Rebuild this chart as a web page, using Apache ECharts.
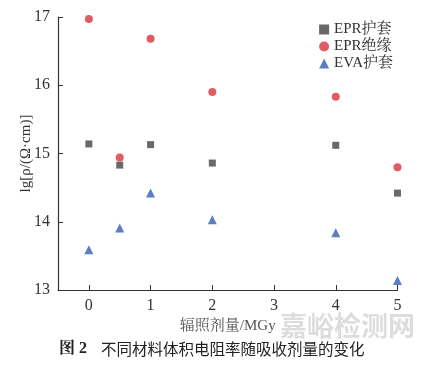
<!DOCTYPE html>
<html><head><meta charset="utf-8">
<script src="https://cdn.jsdelivr.net/npm/echarts@6/dist/echarts.min.js"></script>
<style>html,body{margin:0;padding:0;background:#fff}#c{width:431px;height:368px}</style>
</head><body><div id="c"></div>
<script>
const doses = [0, 0.5, 1, 2, 4, 5];
const eprSheath = [15.14, 14.83, 15.13, 14.86, 15.12, 14.42];
const eprInsul = [16.97, 14.94, 16.68, 15.90, 15.83, 14.80];
const evaSheath = [13.59, 13.91, 14.42, 14.03, 13.84, 13.14];
const xTicks = [0, 1, 2, 3, 4, 5];
const yTicks = [13, 14, 15, 16, 17];
const names = ['EPR护套', 'EPR绝缘', 'EVA护套'];

const serif = '"Liberation Serif", "Noto Serif CJK SC", "Noto Sans CJK SC", serif';
const pair = (arr) => doses.map((d, i) => [d, arr[i]]);
const chart = echarts.init(document.getElementById('c'));
chart.setOption({
  animation: false,
  backgroundColor: '#fff',
  grid: { left: 58, right: 33.5, top: 17, bottom: 78 },
  legend: {
    data: names, orient: 'vertical', right: 33, top: 17, itemGap: 2,
    itemWidth: 10, itemHeight: 10,
    textStyle: { fontFamily: serif, fontSize: 15, color: '#333' }
  },
  xAxis: {
    type: 'value', min: -0.5, max: 5,
    name: '辐照剂量/MGy', nameLocation: 'middle', nameGap: 22,
    nameTextStyle: { fontFamily: serif, fontSize: 15, color: '#555' },
    axisLine: { onZero: false, lineStyle: { color: '#333', width: 1.2 } },
    axisTick: { inside: true, length: 5, customValues: xTicks, lineStyle: { color: '#333' } },
    axisLabel: { customValues: xTicks, fontFamily: serif, fontSize: 16, color: '#333', margin: 8 },
    splitLine: { show: false }
  },
  yAxis: {
    type: 'value', min: 13, max: 17, interval: 1,
    name: 'lg[ρ/(Ω·cm)]', nameLocation: 'middle', nameGap: 24, nameRotate: 90,
    nameMoveOverlap: false,
    nameTextStyle: { fontFamily: serif, fontSize: 15, color: '#333' },
    axisLine: { show: true, onZero: false, lineStyle: { color: '#333', width: 1.2 } },
    axisTick: { show: true, inside: true, length: 5, lineStyle: { color: '#333' } },
    axisLabel: { fontFamily: serif, fontSize: 16, color: '#333', margin: 8 },
    splitLine: { show: false }
  },
  series: [
    { name: names[0], type: 'scatter', symbol: 'rect', symbolSize: 7, itemStyle: { color: '#434343' }, data: pair(eprSheath) },
    { name: names[1], type: 'scatter', symbol: 'circle', symbolSize: 8, itemStyle: { color: '#d8333e' }, data: pair(eprInsul) },
    { name: names[2], type: 'scatter', symbol: 'triangle', symbolSize: 9, itemStyle: { color: '#2f5fb3' }, data: pair(evaSheath) }
  ],
  graphic: [
    { type: 'text', left: 59, top: 341, style: { text: '图 2', font: 'bold 16px ' + serif, fill: '#222' } },
    { type: 'text', left: 101, top: 341, style: { text: '不同材料体积电阻率随吸收剂量的变化', font: '15.5px "Noto Sans CJK SC", sans-serif', fill: '#222' } },
    { type: 'text', left: 280, top: 312, style: { text: '嘉峪检测网', font: 'bold 27px "Noto Sans CJK SC", sans-serif', fill: 'rgba(180,180,180,0.45)' } }
  ]
});
</script></body></html>
